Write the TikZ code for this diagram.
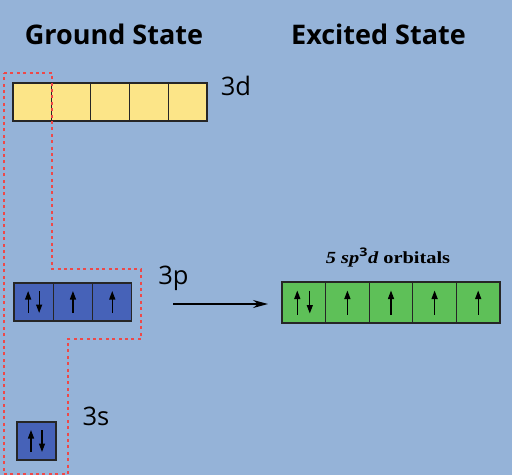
\documentclass[tikz,border=0pt]{standalone}
\usepackage{fontspec}
\setmainfont{Open Sans}
\newfontfamily\serifrm{Liberation Serif}
\usetikzlibrary{arrows.meta}
\definecolor{bgblue}{RGB}{149,179,216}
\definecolor{orbyellow}{RGB}{252,229,136}
\definecolor{orbblue}{RGB}{70,98,184}
\definecolor{orbgreen}{RGB}{94,192,88}
\definecolor{dotred}{RGB}{238,72,72}
\tikzset{
  orb/.style={draw=black!85, line width=1.1pt, minimum height=#1, inner sep=0pt, outer sep=0pt, anchor=north west},
  spin/.style={line width=1.3pt, -{Triangle[length=8.5pt,width=6pt]}},
  heading/.style={font=\bfseries\fontsize{27}{30}\selectfont, anchor=base, inner sep=0pt},
  lbl/.style={font=\fontsize{25.5}{28}\selectfont, anchor=base, inner sep=0pt},
  bigarrow/.style={line width=1.1pt, -{Stealth[length=15pt,width=8pt]}},
  redline/.style={draw=dotred, line width=1.6pt, dash pattern=on 3pt off 3.4pt}
}
\begin{document}
\begin{tikzpicture}[x=1pt,y=-1pt]
\fill[bgblue] (0,0) rectangle (512,475);
\useasboundingbox (0,0) rectangle (512,475);

% headings
\node[heading] (hg) at (114,44) {Ground State};
\node[heading] (he) at (378.5,44) {Excited State};

% 3d boxes
\foreach \i in {0,...,4}{
  \node[orb=38pt, minimum width=38.8pt, fill=orbyellow] (d\i) at ({13+38.8*\i},83) {};
}
\node[lbl] (l3d) at (236,95) {3d};

% 3p boxes
\foreach \i in {0,...,2}{
  \node[orb=38pt, minimum width=39.3pt, fill=orbblue] (p\i) at ({14+39.3*\i},283) {};
}
\node[lbl] (l3p) at (173.5,284) {3p};
\draw[spin] ([xshift=-5.5pt,yshift=-11pt]p0.center) -- ([xshift=-5.5pt,yshift=11pt]p0.center);
\draw[spin] ([xshift=5.5pt,yshift=11pt]p0.center) -- ([xshift=5.5pt,yshift=-11pt]p0.center);
\draw[spin] ([yshift=-11pt]p1.center) -- ([yshift=11pt]p1.center);
\draw[spin] ([yshift=-11pt]p2.center) -- ([yshift=11pt]p2.center);

% 3s box
\node[orb=38pt, minimum width=39pt, fill=orbblue] (s0) at (17,422) {};
\node[lbl] (l3s) at (96,425) {3s};
\draw[spin] ([xshift=-5.5pt,yshift=-11pt]s0.center) -- ([xshift=-5.5pt,yshift=11pt]s0.center);
\draw[spin] ([xshift=5.5pt,yshift=11pt]s0.center) -- ([xshift=5.5pt,yshift=-11pt]s0.center);

% excited state boxes
\foreach \i in {0,...,4}{
  \node[orb=41pt, minimum width=43.6pt, fill=orbgreen] (h\i) at ({282+43.6*\i},282) {};
}
\draw[spin] ([xshift=-6.5pt,yshift=-12pt]h0.center) -- ([xshift=-6.5pt,yshift=12pt]h0.center);
\draw[spin] ([xshift=6pt,yshift=12pt]h0.center) -- ([xshift=6pt,yshift=-11pt]h0.center);
\foreach \i in {1,...,4}{
  \draw[spin] ([yshift=-12pt]h\i.center) -- ([yshift=12pt]h\i.center);
}
\node[font=\serifrm\bfseries\fontsize{17}{19}\selectfont, anchor=base, inner sep=0pt] (lhyb) at (388,263)
  {\scalebox{1.2}[1]{\itshape 5 sp$^{\mathbf{3}}$d\upshape{} orbitals}};

% transition arrow
\coordinate (as) at (173,304);
\coordinate (ae) at (268,304);
\draw[bigarrow] (as) -- (ae);

% red dotted outline
\draw[redline] (4,73) -- (52,73) -- (52,269) -- (141,269) -- (141,339) -- (68,339) -- (68,474) -- (4,474) -- cycle;
\end{tikzpicture}
\end{document}
